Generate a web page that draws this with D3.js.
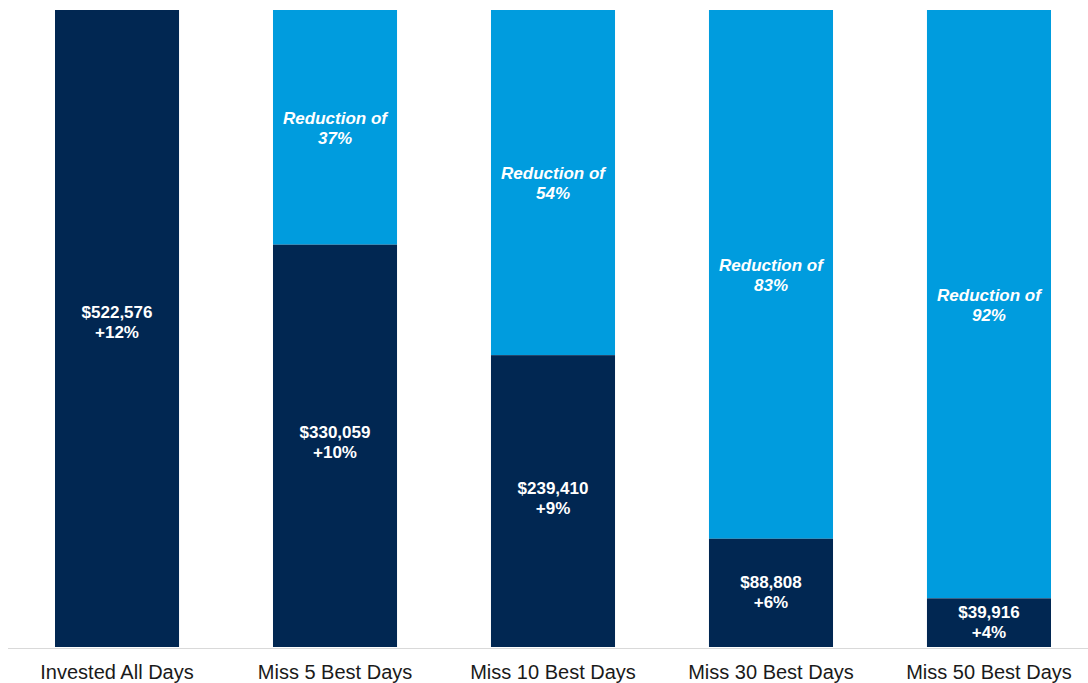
<!DOCTYPE html>
<html>
<head>
<meta charset="utf-8">
<script src="https://cdn.jsdelivr.net/npm/d3@7"></script>
<style>
  html, body { margin: 0; padding: 0; background: #fff; }
  svg { display: block; }
</style>
</head>
<body>
<svg id="chart" width="1088" height="683"></svg>
<script>
const categories = ["Invested All Days", "Miss 5 Best Days", "Miss 10 Best Days", "Miss 30 Best Days", "Miss 50 Best Days"];
const values = [522576, 330059, 239410, 88808, 39916];
const returns = ["+12%", "+10%", "+9%", "+6%", "+4%"];
const reductions = [null, "37%", "54%", "83%", "92%"];
const total = 522576;

const svg = d3.select("#chart");
const W = 1088, H = 683;
const x = d3.scaleBand().domain(categories).range([8, 1098]).paddingInner(0.431).paddingOuter(0.2156);
const y = d3.scaleLinear().domain([0, total]).range([647, 10]);

const navy = "#012752", blue = "#009CDE";
const font = "'Liberation Sans', Arial, sans-serif";

const data = categories.map((c, i) => ({ c, v: values[i], r: returns[i], red: reductions[i] }));

// reduction segment
svg.selectAll("rect.red").data(data.filter(d => d.red)).join("rect")
  .attr("class", "red")
  .attr("x", d => x(d.c)).attr("width", x.bandwidth())
  .attr("y", y(total)).attr("height", d => y(d.v) - y(total))
  .attr("fill", blue);

// value segment
svg.selectAll("rect.val").data(data).join("rect")
  .attr("class", "val")
  .attr("x", d => x(d.c)).attr("width", x.bandwidth())
  .attr("y", d => y(d.v)).attr("height", d => y(0) - y(d.v))
  .attr("fill", navy);

// axis line
svg.append("line").attr("x1", 8).attr("x2", W).attr("y1", 648.5).attr("y2", 648.5)
  .attr("stroke", "#d9d9d9").attr("stroke-width", 1);

// value labels
const fmt = d3.format(",");
data.forEach(d => {
  const cx = x(d.c) + x.bandwidth() / 2;
  const h = y(0) - y(d.v);
  const cy = (y(d.v) + y(0)) / 2 - 2 - 0.01 * h;
  const t = svg.append("text").attr("x", cx).attr("y", cy)
    .attr("text-anchor", "middle").attr("fill", "#fff")
    .attr("font-family", font).attr("font-weight", "bold").attr("font-size", 17);
  t.append("tspan").attr("x", cx).attr("dy", "-0.1em").text("$" + fmt(d.v));
  t.append("tspan").attr("x", cx).attr("dy", "1.15em").text(d.r);
  if (d.red) {
    const ry = (y(total) + y(d.v)) / 2 - 1.5;
    const t2 = svg.append("text").attr("x", cx).attr("y", ry)
      .attr("text-anchor", "middle").attr("fill", "#fff")
      .attr("font-family", font).attr("font-weight", "bold").attr("font-style", "italic").attr("font-size", 17);
    t2.append("tspan").attr("x", cx).attr("dy", "-0.1em").text("Reduction of");
    t2.append("tspan").attr("x", cx).attr("dy", "1.15em").text(d.red);
  }
});

// category axis labels
const axis = d3.axisBottom(x).tickSize(0).tickPadding(0);
const g = svg.append("g").attr("transform", "translate(0,665)").call(axis);
g.select(".domain").remove();
g.selectAll("text").attr("font-family", font).attr("font-size", 20).attr("fill", "#1a1a1a").attr("dy", "0.71em");
</script>
</body>
</html>
